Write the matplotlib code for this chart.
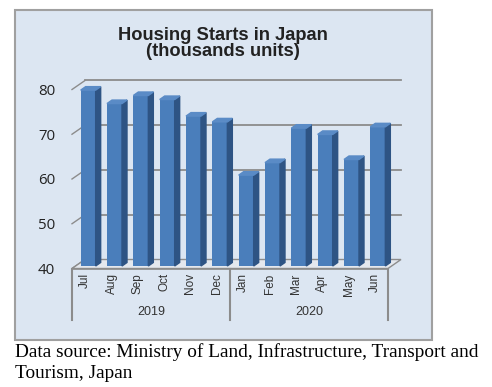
import matplotlib
matplotlib.use("Agg")
import matplotlib.pyplot as plt
from matplotlib.patches import Rectangle
import numpy as np

# === DATA ===
months = ['Jul', 'Aug', 'Sep', 'Oct', 'Nov', 'Dec',
          'Jan', 'Feb', 'Mar', 'Apr', 'May', 'Jun']
years = ['2019', '2020']
starts = [79.3, 76.3, 78.1, 77.2, 73.5, 72.2,
          60.3, 63.1, 70.8, 69.4, 63.8, 71.1]
yticks = [40, 50, 60, 70, 80]

# === STYLE ===
W, H = 492, 387
FRONT = '#4a7ebb'
SIDE = '#2e5484'
TOP = '#5a8bc6'
GRID = '#8c8c8c'
PANEL = '#dce6f2'

# pixel -> data scales for the front plane
PX_X = 1 / 26.33          # category units per px
PX_Y = 40 / 179.0         # value units per px
DX, DY = 13 * PX_X, 9 * PX_Y        # depth of the 3d box
BX, BY = 3 * PX_X, 2.5 * PX_Y       # bar plane offset
SX, SY = 5 * PX_X, 3.5 * PX_Y       # bar side/top depth
BW = 15 * PX_X

fig = plt.figure(figsize=(W / 100, H / 100), dpi=100)
fig.patches.append(Rectangle((15 / W, 1 - 340 / H), 417 / W, 330 / H,
                             transform=fig.transFigure, facecolor=PANEL,
                             edgecolor='#a0a0a0', linewidth=1.5, zorder=-5))

ax = fig.add_axes([72 / W, 1 - 268.5 / H, 316 / W, 179 / H])
ax.set_zorder(1)
ax.set_xlim(-0.5, 11.5)
ax.set_ylim(40, 80)
ax.patch.set_alpha(0)
for s in ax.spines.values():
    s.set_visible(False)

x = np.arange(len(months))
x0, x1 = -0.5, len(months) - 0.5

# back wall gridlines and left depth ticks
for v in yticks:
    if v > 40:
        ax.plot([x0 + DX, x1 + DX], [v + DY, v + DY], color=GRID, lw=1.3,
                clip_on=False, zorder=1)
    ax.plot([x0, x0 + DX], [v, v + DY], color=GRID, lw=1.0,
            clip_on=False, zorder=1)

# floor
ax.fill([x0, x1, x1 + DX, x0 + DX], [40, 40, 40 + DY, 40 + DY],
        facecolor='#e4e8ee', edgecolor=GRID, lw=1.0, clip_on=False, zorder=1)

# bars
vals = np.array(starts)
bottom = 40 + BY
ax.bar(x + BX, vals - 40, bottom=bottom, width=BW, color=FRONT,
       clip_on=False, zorder=3)
for xi, v in zip(x, vals):
    xr = xi + BX + BW / 2
    xl = xi + BX - BW / 2
    top = v + BY
    ax.fill([xr, xr + SX, xr + SX, xr], [bottom, bottom + SY, top + SY, top],
            color=SIDE, clip_on=False, zorder=3)
    ax.fill([xl, xr, xr + SX, xl + SX], [top, top, top + SY, top + SY],
            color=TOP, clip_on=False, zorder=3)

# y ticks
ax.set_yticks(yticks)
ax.set_yticklabels([str(v) for v in yticks], fontsize=10.8,
                   fontfamily='Open Sans', color='#222222')
ax.tick_params(axis='y', length=0, pad=12)

# month labels
ax.set_xticks(x)
ax.set_xticklabels(months, rotation=90, fontsize=8.5,
                   fontfamily='Liberation Sans', color='#333333')
ax.tick_params(axis='x', length=0, pad=3.5)

# group dividers and year labels
trans = ax.get_xaxis_transform()
for xd in [x0, 5.5, x1]:
    ax.plot([xd, xd], [0, -51 / 179], color='#8c8c8c', lw=1.5,
            transform=trans, clip_on=False)
ax.plot([x0, x1], [0, 0], color='#8c8c8c', lw=1.2, transform=trans,
        clip_on=False)
for i, yr in enumerate(years):
    ax.text(2.5 + 6 * i, -43.5 / 179, yr, transform=trans, ha='center',
            va='center', fontsize=9, fontfamily='Liberation Sans',
            color='#333333')

# title
fig.text(223 / W, 1 - 35 / H, 'Housing Starts in Japan', ha='center',
         va='center', fontsize=13.2, fontweight='bold',
         fontfamily='Liberation Sans', color='#222222')
fig.text(223 / W, 1 - 52 / H, '(thousands units)', ha='center',
         va='center', fontsize=13.2, fontweight='bold',
         fontfamily='Liberation Sans', color='#222222')

# caption
fig.text(15 / W, 1 - 352 / H,
         'Data source: Ministry of Land, Infrastructure, Transport and',
         ha='left', va='center', fontsize=13.85, fontfamily='Liberation Serif')
fig.text(15 / W, 1 - 374 / H, 'Tourism, Japan', ha='left', va='center',
         fontsize=13.85, fontfamily='Liberation Serif')

fig.savefig('out.png', dpi=100)
